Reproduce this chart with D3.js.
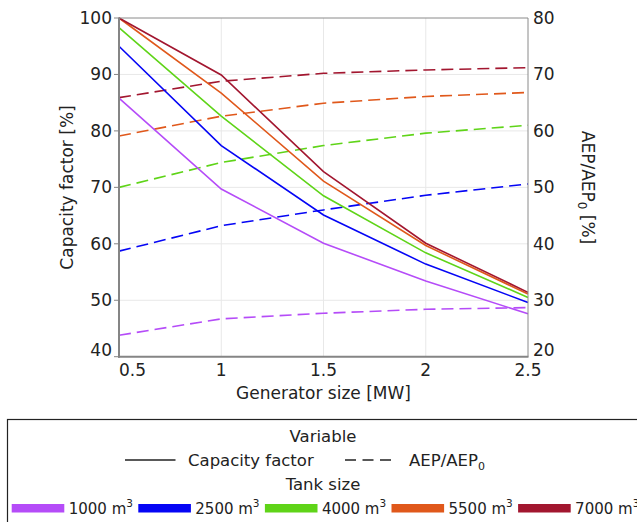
<!DOCTYPE html>
<html>
<head>
<meta charset="utf-8">
<script src="https://cdn.jsdelivr.net/npm/d3@7"></script>
<style>
html,body{margin:0;padding:0;background:#fff;}
svg{display:block;font-family:"DejaVu Sans",sans-serif;}
</style>
</head>
<body>
<svg id="chart" width="637" height="522"></svg>
<script>
// ---- data ----
const generatorSizes = [0.5, 1, 1.5, 2, 2.5];
const xTickLabels = ["0.5", "1", "1.5", "2", "2.5"];
const leftTicks = [40, 50, 60, 70, 80, 90, 100];
const rightTicks = [20, 30, 40, 50, 60, 70, 80];
const tankSizes = ["1000", "2500", "4000", "5500", "7000"];
const tankColors = ["#b54cf8", "#0505f5", "#5fd418", "#e0581b", "#a2162f"];

// Capacity factor [%] (solid, left axis)
const cf1000 = [85.8, 69.7, 60.1, 53.4, 47.6];
const cf2500 = [95.0, 77.4, 65.1, 56.4, 49.6];
const cf4000 = [98.3, 82.6, 68.5, 58.4, 50.5];
const cf5500 = [100.0, 86.7, 71.1, 59.7, 51.1];
const cf7000 = [100.0, 89.9, 72.8, 60.1, 51.4];
// AEP/AEP0 [%] (dashed, right axis)
const aep1000 = [23.8, 26.7, 27.7, 28.4, 28.7];
const aep2500 = [38.7, 43.2, 46.0, 48.6, 50.6];
const aep4000 = [50.0, 54.4, 57.4, 59.6, 61.0];
const aep5500 = [59.1, 62.6, 64.9, 66.1, 66.8];
const aep7000 = [65.9, 68.8, 70.2, 70.8, 71.2];

const cfSeries = [cf1000, cf2500, cf4000, cf5500, cf7000];
const aepSeries = [aep1000, aep2500, aep4000, aep5500, aep7000];

// ---- layout ----
const svg = d3.select("#chart");
const L = 119, R = 528, T = 18, B = 356.7;
const x = d3.scaleLinear().domain([0.5, 2.5]).range([L, R]);
const yL = d3.scaleLinear().domain([40, 100]).range([B, T]);
const yR = d3.scaleLinear().domain([20, 80]).range([B, T]);

// grid
const grid = svg.append("g");
grid.selectAll("line.gx").data(generatorSizes.slice(1, -1)).join("line")
  .attr("x1", d => x(d)).attr("x2", d => x(d)).attr("y1", T).attr("y2", B)
  .attr("stroke", "#e8e8e8").attr("stroke-width", 1);
grid.selectAll("line.gy").data(leftTicks.slice(1, -1)).join("line")
  .attr("x1", L).attr("x2", R).attr("y1", d => yL(d)).attr("y2", d => yL(d))
  .attr("stroke", "#e8e8e8").attr("stroke-width", 1);

// lines
const lineL = d3.line().x((d, i) => x(generatorSizes[i])).y(d => yL(d));
const lineR = d3.line().x((d, i) => x(generatorSizes[i])).y(d => yR(d));
const plot = svg.append("g");
aepSeries.forEach((s, k) => {
  plot.append("path").attr("d", lineR(s)).attr("fill", "none")
    .attr("stroke", tankColors[k]).attr("stroke-width", 1.6)
    .attr("stroke-dasharray", "12,6");
});
cfSeries.forEach((s, k) => {
  plot.append("path").attr("d", lineL(s)).attr("fill", "none")
    .attr("stroke", tankColors[k]).attr("stroke-width", 1.6);
});

// spines
svg.append("line").attr("x1", L).attr("x2", R).attr("y1", T).attr("y2", T)
  .attr("stroke", "#8a8a8a").attr("stroke-width", 1);
svg.append("line").attr("x1", R).attr("x2", R).attr("y1", T).attr("y2", B)
  .attr("stroke", "#8a8a8a").attr("stroke-width", 1);
svg.append("line").attr("x1", L).attr("x2", L).attr("y1", T - 0.5).attr("y2", B + 1)
  .attr("stroke", "#858585").attr("stroke-width", 2);
svg.append("line").attr("x1", L - 1).attr("x2", R + 0.5).attr("y1", B).attr("y2", B)
  .attr("stroke", "#858585").attr("stroke-width", 2);

// left ticks
svg.append("g").selectAll("line").data(leftTicks).join("line")
  .attr("x1", L - 5).attr("x2", L).attr("y1", d => yL(d)).attr("y2", d => yL(d))
  .attr("stroke", "#858585").attr("stroke-width", 1);

const tickFont = 17;
svg.append("g").selectAll("text").data(leftTicks).join("text")
  .attr("x", 112).attr("y", (d, i) => i === 0 ? yL(d) - 0.5 : yL(d) + 6)
  .attr("text-anchor", "end").attr("font-size", tickFont).attr("fill", "#222")
  .text(d => d);
svg.append("g").selectAll("text").data(rightTicks).join("text")
  .attr("x", 533).attr("y", (d, i) => i === 0 ? yR(d) - 1 : yR(d) + 6)
  .attr("text-anchor", "start").attr("font-size", tickFont).attr("fill", "#222")
  .text(d => d);
svg.append("g").selectAll("text").data(generatorSizes).join("text")
  .attr("x", (d, i) => i === 0 ? L : x(d))
  .attr("y", 375.5)
  .attr("text-anchor", (d, i) => i === 0 ? "start" : "middle")
  .attr("font-size", tickFont).attr("fill", "#222")
  .text((d, i) => xTickLabels[i]);

// axis labels
svg.append("text").attr("x", 323.5).attr("y", 399).attr("text-anchor", "middle")
  .attr("font-size", 17).attr("fill", "#222").text("Generator size [MW]");
svg.append("text").attr("transform", "translate(73,187.5) rotate(-90)")
  .attr("text-anchor", "middle").attr("font-size", 17).attr("fill", "#222")
  .text("Capacity factor [%]");
const rl = svg.append("text").attr("transform", "translate(582,187.5) rotate(90)")
  .attr("text-anchor", "middle").attr("font-size", 17).attr("fill", "#222");
rl.append("tspan").text("AEP/AEP");
rl.append("tspan").attr("font-size", 12).attr("dy", 4).text("0");
rl.append("tspan").attr("dy", -4).text(" [%]");

// ---- legend ----
const lg = svg.append("g");
lg.append("rect").attr("x", 7.5).attr("y", 419.5).attr("width", 640).attr("height", 120)
  .attr("fill", "#fff").attr("stroke", "#222").attr("stroke-width", 1.2);
lg.append("text").attr("x", 323).attr("y", 442).attr("text-anchor", "middle")
  .attr("font-size", 16.5).attr("fill", "#222").text("Variable");
lg.append("line").attr("x1", 125).attr("x2", 175.5).attr("y1", 460).attr("y2", 460)
  .attr("stroke", "#222").attr("stroke-width", 1.6);
lg.append("text").attr("x", 188).attr("y", 466).attr("font-size", 16.5).attr("fill", "#222")
  .text("Capacity factor");
lg.append("line").attr("x1", 345).attr("x2", 396).attr("y1", 460).attr("y2", 460)
  .attr("stroke", "#222").attr("stroke-width", 1.6).attr("stroke-dasharray", "11,6.5");
const ae = lg.append("text").attr("x", 409).attr("y", 466).attr("font-size", 16.5).attr("fill", "#222");
ae.append("tspan").text("AEP/AEP");
ae.append("tspan").attr("font-size", 11).attr("dy", 4).text("0");
lg.append("text").attr("x", 323).attr("y", 490).attr("text-anchor", "middle")
  .attr("font-size", 16.5).attr("fill", "#222").text("Tank size");

const ent = lg.selectAll("g.ent").data(tankSizes).join("g")
  .attr("transform", (d, i) => `translate(${11.7 + i * 126.6},0)`);
ent.append("rect").attr("x", 0).attr("y", 504).attr("width", 52.6).attr("height", 8.5)
  .attr("fill", (d, i) => tankColors[i]);
const et = ent.append("text").attr("x", 57).attr("y", 514).attr("font-size", 15).attr("fill", "#222");
et.append("tspan").text(d => d + " m");
et.append("tspan").attr("font-size", 10.5).attr("dy", -7).text("3");
</script>
</body>
</html>
